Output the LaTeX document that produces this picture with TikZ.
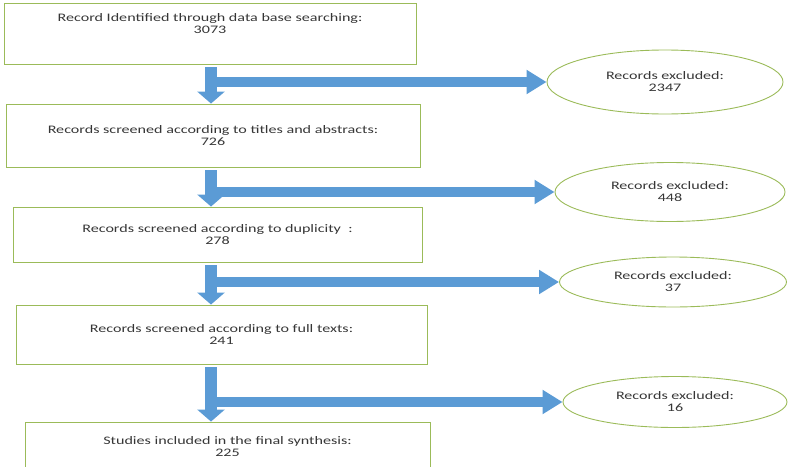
\documentclass[tikz,border=0pt]{standalone}
\usepackage{fontspec}
\setmainfont{Carlito}[FakeStretch=1.4]
\usetikzlibrary{arrows.meta,shapes.geometric}
\definecolor{boxgreen}{HTML}{9BBB59}
\definecolor{flowblue}{HTML}{5B9BD5}
\definecolor{inkgray}{HTML}{363636}

\begin{document}
\begin{tikzpicture}[x=1pt, y=-1pt,
    stage/.style={draw=boxgreen, line width=0.9pt, align=center, inner sep=0pt,
      text=inkgray, font=\fontsize{11.5}{12}\selectfont},
    excluded/.style={stage, ellipse},
    downflow/.style={draw=flowblue, line width=12pt, -{Triangle[length=12pt, width=27pt]}},
    sideflow/.style={draw=flowblue, line width=10pt, -{Triangle[length=20pt, width=23pt]}}]
  \useasboundingbox (0,0) rectangle (790,466);
  \clip (0,0) rectangle (790,466);
  \coordinate (spine) at (211,0);

  \node[stage, minimum width=412pt, minimum height=61pt] (search) at (210,33.5)
    {Record Identified through data base searching:\\3073\\[7pt]\mbox{}};
  \node[stage, minimum width=414pt, minimum height=63pt] (titles) at (213,135.5)
    {Records screened according to titles and abstracts:\\726};
  \node[stage, minimum width=409pt, minimum height=55pt] (duplicity) at (217.5,234.5)
    {Records screened according to duplicity\ \ :\\278};
  \node[stage, minimum width=411pt, minimum height=59pt] (fulltext) at (221.5,334.5)
    {Records screened according to full texts:\\241};
  \node[stage, minimum width=405pt, minimum height=50pt] (included) at (227.5,447)
    {Studies included in the final synthesis:\\225};

  \node[excluded, minimum width=236pt, minimum height=64pt] (excl1) at (665,82)
    {Records excluded:\\2347};
  \node[excluded, minimum width=230pt, minimum height=59pt] (excl2) at (670,192)
    {Records excluded:\\448};
  \node[excluded, minimum width=227pt, minimum height=50pt] (excl3) at (673,282)
    {Records excluded:\\37};
  \node[excluded, minimum width=224pt, minimum height=51pt] (excl4) at (675,402)
    {Records excluded:\\16};

  \draw[downflow] ([yshift=-3pt]search.south -| spine) -- (titles.north -| spine);
  \draw[downflow] ([yshift=-3pt]titles.south -| spine) -- (duplicity.north -| spine);
  \draw[downflow] ([yshift=-3pt]duplicity.south -| spine) -- (fulltext.north -| spine);
  \draw[downflow] ([yshift=-3pt]fulltext.south -| spine) -- (included.north -| spine);

  \draw[sideflow] (spine |- excl1) -- (excl1.west);
  \draw[sideflow] (spine |- excl2) -- (excl2.west);
  \draw[sideflow] (spine |- excl3) -- (excl3.west);
  \draw[sideflow] (spine |- excl4) -- (excl4.west);
\end{tikzpicture}
\end{document}
